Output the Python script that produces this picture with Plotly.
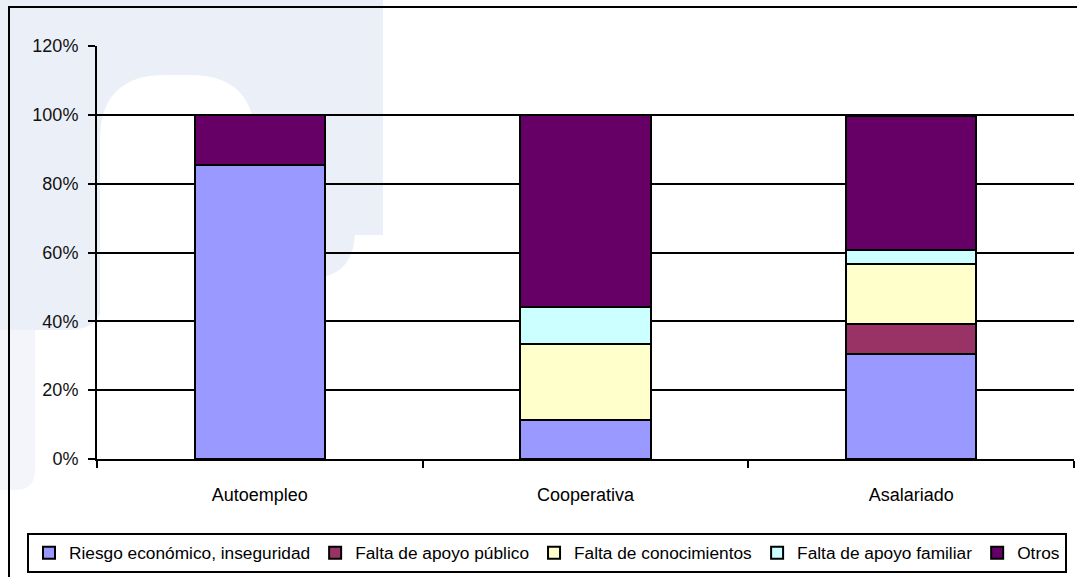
import plotly.graph_objects as go

# Stacked shares of reported obstacles by employment path
categories = ["Autoempleo", "Cooperativa", "Asalariado"]

riesgo = [0.855, 0.113, 0.304]
apoyo_publico = [0.0, 0.0, 0.087]
conocimientos = [0.0, 0.221, 0.175]
apoyo_familiar = [0.0, 0.109, 0.042]
otros = [0.145, 0.557, 0.390]

series_names = [
    "Riesgo económico, inseguridad",
    "Falta de apoyo público",
    "Falta de conocimientos",
    "Falta de apoyo familiar",
    "Otros",
]
series_values = [riesgo, apoyo_publico, conocimientos, apoyo_familiar, otros]
series_colors = ["#9999FF", "#993366", "#FFFFCC", "#CCFFFF", "#660066"]

y_ticks = [0, 0.2, 0.4, 0.6, 0.8, 1.0, 1.2]

W, H = 1077, 577
ML, MR, MT, MB = 97, 3, 46, 118
PW, PH = W - ML - MR, H - MT - MB

FONT = "Liberation Sans, Arial, sans-serif"


def px(x):
    return (x - ML) / PW


def py(y):
    return (H - MB - y) / PH


def path(cmds):
    # cmds: list of (command, [(x, y), ...]) in pixel space
    out = []
    for cmd, pts in cmds:
        coords = " ".join(f"{px(x):.5f},{py(y):.5f}" for x, y in pts)
        out.append(f"{cmd} {coords}")
    return " ".join(out) + " Z"


def poly(pts):
    return path([("M", [pts[0]])] + [("L", [p]) for p in pts[1:]])


fig = go.Figure()
for name, vals, col in zip(series_names, series_values, series_colors):
    fig.add_trace(go.Bar(
        name=name,
        x=categories,
        y=vals,
        width=0.4,
        marker=dict(color=col, line=dict(color="black", width=2)),
        hoverinfo="skip",
    ))

WM = "#EBEFF8"
WM2 = "#F3F5FA"
shapes = [
    # faint background emblem
    dict(type="path", path=poly([(0, 0), (383, 0), (383, 235), (0, 235)]),
         fillcolor=WM, line=dict(width=0)),
    dict(type="path", path=path([
        ("M", [(265, 0)]), ("L", [(355, 0)]), ("L", [(355, 230)]),
        ("Q", [(355, 278), (310, 278)]), ("Q", [(265, 278), (265, 230)])]),
         fillcolor=WM, line=dict(width=0)),
    dict(type="path", path=path([
        ("M", [(0, 0)]), ("L", [(105, 0)]), ("L", [(105, 290)]),
        ("Q", [(105, 330), (70, 330)]), ("L", [(0, 330)])]),
         fillcolor=WM, line=dict(width=0)),
    dict(type="path", path=path([
        ("M", [(0, 330)]), ("L", [(35, 330)]), ("L", [(35, 470)]),
        ("Q", [(35, 490), (15, 490)]), ("L", [(0, 490)])]),
         fillcolor=WM2, line=dict(width=0)),
    dict(type="path", path=path([
        ("M", [(100, 470)]), ("L", [(100, 140)]),
        ("Q", [(100, 75), (165, 75)]), ("L", [(190, 75)]),
        ("Q", [(255, 75), (255, 140)]), ("L", [(255, 470)])]),
         fillcolor="white", line=dict(width=0)),
]
for s in shapes:
    s.update(xref="paper", yref="paper", layer="below")

# chart frame
shapes.append(dict(type="rect", xref="paper", yref="paper",
                   x0=px(9), y0=py(7), x1=px(1090), y1=py(590),
                   line=dict(color="black", width=2), fillcolor="rgba(0,0,0,0)",
                   layer="below"))

fig.update_layout(
    width=W, height=H,
    margin=dict(l=ML, r=MR, t=MT, b=MB),
    barmode="stack",
    paper_bgcolor="white",
    plot_bgcolor="rgba(0,0,0,0)",
    font=dict(family=FONT, size=17, color="black"),
    shapes=shapes,
    showlegend=True,
    legend=dict(
        orientation="h",
        x=px(27), xanchor="left",
        y=py(533), yanchor="top",
        bordercolor="black", borderwidth=2,
        bgcolor="white",
        font=dict(family=FONT, size=17.3, color="black"),
        itemwidth=30,
        traceorder="normal",
    ),
    xaxis=dict(
        showline=True, linecolor="black", linewidth=2,
        ticks="outside", tickson="boundaries", ticklen=7, tickwidth=2, tickcolor="black",
        showgrid=False,
        tickfont=dict(family=FONT, size=18, color="black"),
        ticklabelstandoff=18,
        range=[-0.5, 2.5],
    ),
    yaxis=dict(
        range=[0, 1.2],
        tickvals=y_ticks,
        tickformat=".0%",
        showline=True, linecolor="black", linewidth=2,
        ticks="outside", ticklen=7, tickwidth=2, tickcolor="black",
        showgrid=True, gridcolor="black", gridwidth=2,
        zeroline=False,
        tickfont=dict(family=FONT, size=18, color="#111"),
        ticklabelstandoff=6,
    ),
)

fig.write_html("out.html")
